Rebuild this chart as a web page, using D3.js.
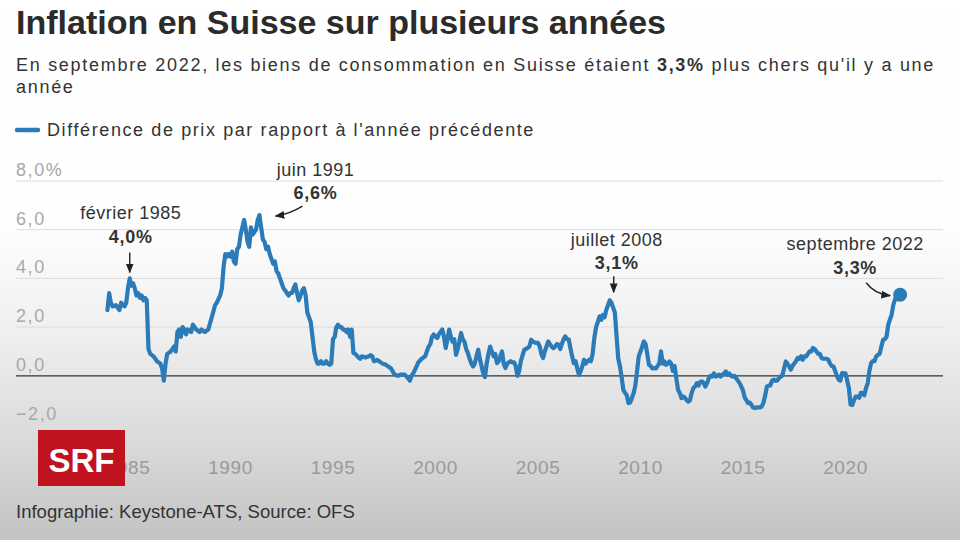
<!DOCTYPE html>
<html>
<head>
<meta charset="utf-8">
<script src="https://cdn.jsdelivr.net/npm/d3@7"></script>
<style>
  html, body { margin: 0; padding: 0; background: #fff; }
  svg { display: block; font-family: "Liberation Sans", Arial, sans-serif; }
</style>
</head>
<body>
<svg id="chart" width="960" height="540"></svg>
<script>
// ---------- DATA ----------
const title = "Inflation en Suisse sur plusieurs années";
const subtitleA = "En septembre 2022, les biens de consommation en Suisse étaient ";
const subtitleBold = "3,3%";
const subtitleB = " plus chers qu'il y a une";
const subtitleLine2 = "année";
const legendLabel = "Différence de prix par rapport à l'année précédente";
const footer = "Infographie: Keystone-ATS, Source: OFS";

const months = [
"1984-01","1984-02","1984-03","1984-04","1984-06","1984-08","1984-09","1984-10","1984-11","1984-12",
"1985-01","1985-02","1985-03","1985-04","1985-05","1985-06","1985-07","1985-08","1985-09","1985-10","1985-11","1985-12",
"1986-01","1986-02","1986-04","1986-06","1986-08","1986-09","1986-10","1986-11","1986-12",
"1987-02","1987-04","1987-05","1987-06","1987-07","1987-08","1987-09","1987-10","1987-11","1987-12",
"1988-02","1988-03","1988-05","1988-07","1988-08","1988-10","1988-12",
"1989-02","1989-04","1989-05","1989-07","1989-08","1989-09","1989-10","1989-11","1989-12",
"1990-01","1990-02","1990-03","1990-04","1990-05","1990-06","1990-07","1990-08","1990-09","1990-10","1990-11","1990-12",
"1991-01","1991-02","1991-03","1991-04","1991-05","1991-06","1991-07","1991-08","1991-09","1991-10","1991-11","1991-12",
"1992-01","1992-02","1992-03","1992-04","1992-05","1992-06","1992-07","1992-08","1992-09","1992-10","1992-11","1992-12",
"1993-01","1993-02","1993-03","1993-04","1993-05","1993-06","1993-07","1993-08","1993-09","1993-10","1993-11","1993-12",
"1994-01","1994-02","1994-03","1994-04","1994-05","1994-06","1994-07","1994-08","1994-09","1994-10","1994-11","1994-12",
"1995-01","1995-02","1995-03","1995-04","1995-05","1995-06","1995-07","1995-08","1995-09","1995-10","1995-11","1995-12",
"1996-01","1996-02","1996-04","1996-05","1996-06","1996-08","1996-10","1996-11","1996-12",
"1997-01","1997-03","1997-05","1997-06","1997-08","1997-10","1997-11",
"1998-01","1998-03","1998-05","1998-07","1998-09","1998-10","1998-11","1998-12",
"1999-02","1999-03","1999-05","1999-07","1999-09","1999-10","1999-11","1999-12",
"2000-01","2000-02","2000-03","2000-05","2000-06","2000-07","2000-08","2000-09","2000-10","2000-11","2000-12",
"2001-01","2001-02","2001-03","2001-04","2001-05","2001-06","2001-07","2001-08","2001-09","2001-10","2001-11","2001-12",
"2002-01","2002-02","2002-03","2002-04","2002-05","2002-06","2002-07","2002-08","2002-09","2002-10","2002-11","2002-12",
"2003-01","2003-02","2003-03","2003-04","2003-05","2003-06","2003-07","2003-09","2003-10","2003-11","2003-12",
"2004-01","2004-02","2004-03","2004-05","2004-06","2004-08","2004-09","2004-10","2004-12",
"2005-01","2005-02","2005-03","2005-04","2005-05","2005-06","2005-07","2005-08","2005-09","2005-10","2005-11","2005-12",
"2006-01","2006-02","2006-03","2006-04","2006-05","2006-06","2006-07","2006-08","2006-09","2006-10","2006-11","2006-12",
"2007-01","2007-02","2007-03","2007-04","2007-05","2007-06","2007-07","2007-08","2007-09","2007-10","2007-11","2007-12",
"2008-01","2008-02","2008-03","2008-04","2008-05","2008-06","2008-07","2008-08","2008-09","2008-10","2008-11","2008-12",
"2009-01","2009-02","2009-03","2009-04","2009-05","2009-06","2009-07","2009-08","2009-09","2009-10","2009-11","2009-12",
"2010-01","2010-02","2010-03","2010-04","2010-05","2010-06","2010-07","2010-08","2010-09","2010-10","2010-11","2010-12",
"2011-01","2011-02","2011-03","2011-04","2011-05","2011-06","2011-07","2011-08","2011-09","2011-10","2011-11","2011-12",
"2012-01","2012-02","2012-03","2012-04","2012-05","2012-06","2012-07","2012-08","2012-09","2012-10","2012-11","2012-12",
"2013-01","2013-02","2013-03","2013-04","2013-05","2013-06","2013-07","2013-08","2013-09","2013-10","2013-11","2013-12",
"2014-01","2014-02","2014-03","2014-04","2014-05","2014-06","2014-07","2014-08","2014-09","2014-10","2014-11","2014-12",
"2015-01","2015-02","2015-03","2015-04","2015-05","2015-06","2015-07","2015-08","2015-09","2015-10","2015-11","2015-12",
"2016-01","2016-02","2016-03","2016-04","2016-05","2016-06","2016-07","2016-08","2016-09","2016-10","2016-11","2016-12",
"2017-01","2017-02","2017-03","2017-04","2017-05","2017-06","2017-07","2017-08","2017-09","2017-10","2017-11","2017-12",
"2018-01","2018-02","2018-03","2018-04","2018-05","2018-06","2018-07","2018-08","2018-09","2018-10","2018-11","2018-12",
"2019-01","2019-02","2019-03","2019-04","2019-05","2019-06","2019-07","2019-08","2019-09","2019-10","2019-11","2019-12",
"2020-01","2020-02","2020-03","2020-04","2020-05","2020-06","2020-07","2020-08","2020-09","2020-10","2020-11","2020-12",
"2021-01","2021-02","2021-03","2021-04","2021-05","2021-06","2021-07","2021-08","2021-09","2021-10","2021-11","2021-12",
"2022-01","2022-02","2022-03","2022-04","2022-05","2022-06","2022-07","2022-08","2022-09"
];

const inflation = [
2.7,3.4,3.0,2.85,2.9,2.7,3.0,2.9,2.85,3.0,
3.6,4.0,3.7,3.8,3.6,3.3,3.4,3.2,3.3,3.1,3.2,3.1,
1.1,0.9,0.8,0.6,0.5,0.3,-0.2,0.5,0.9,
1.0,1.2,1.0,1.8,1.9,1.6,2.0,1.9,1.7,1.9,
1.8,2.1,1.9,1.8,1.9,1.8,1.9,
2.4,2.9,3.0,3.3,3.6,4.5,5.0,4.9,5.0,
4.9,5.1,4.7,4.6,5.2,5.3,5.8,6.1,6.4,6.0,5.5,5.3,
6.1,5.8,5.9,6.0,6.4,6.6,6.1,5.6,5.5,5.2,5.3,5.0,
4.8,4.6,4.7,4.3,4.2,4.0,3.8,3.6,3.5,3.4,3.3,3.4,
3.4,3.6,3.75,3.4,3.1,3.3,3.5,3.6,3.3,2.6,2.4,2.2,
1.6,1.0,0.7,0.5,0.5,0.6,0.5,0.5,0.6,0.5,0.45,0.5,
1.5,1.6,2.0,2.1,2.0,2.0,1.9,1.9,1.8,1.9,1.6,1.9,
0.93,0.9,0.75,0.7,0.8,0.75,0.8,0.85,0.8,
0.6,0.65,0.55,0.5,0.45,0.35,0.3,
0.05,0.0,0.05,0.05,-0.1,-0.2,0.0,0.1,
0.4,0.55,0.7,0.8,1.2,1.3,1.6,1.7,
1.6,1.55,1.7,1.9,1.6,1.14,1.5,1.9,1.6,1.4,1.5,
0.86,1.1,1.4,1.76,1.5,1.4,1.1,0.93,0.7,0.5,0.38,0.5,
0.8,1.07,0.7,0.4,0.1,-0.05,0.5,0.9,1.2,1.0,0.8,0.9,
0.52,0.6,0.8,1.0,0.5,0.32,0.5,0.6,0.55,0.55,0.4,
0.0,0.2,0.6,1.07,1.1,1.2,1.48,1.4,1.35,
1.35,1.2,0.9,0.73,1.0,1.2,1.41,1.3,1.2,1.14,1.2,1.3,
1.28,1.1,1.3,1.5,1.62,1.5,1.5,1.14,0.8,0.52,0.6,0.3,
0.04,0.2,0.4,0.66,0.5,0.6,0.66,0.6,0.9,1.55,2.0,2.2,
2.44,2.3,2.5,2.4,2.7,2.9,3.1,3.0,2.8,2.6,1.6,0.7,
0.38,-0.1,-0.58,-0.7,-0.8,-1.12,-1.1,-0.9,-0.71,-0.4,0.2,0.8,
1.0,1.2,1.41,1.3,0.9,0.45,0.4,0.3,0.32,0.3,0.4,0.5,
1.0,0.5,0.6,0.45,0.5,0.59,0.5,0.2,0.4,-0.1,-0.58,-0.7,
-0.92,-0.85,-0.9,-1.0,-1.06,-1.0,-0.7,-0.5,-0.44,-0.3,-0.4,-0.25,
-0.23,-0.3,-0.44,-0.3,-0.1,0.0,-0.03,0.1,-0.03,0.0,0.05,-0.03,
0.05,0.1,0.18,0.05,0.1,0.0,-0.03,0.0,-0.1,-0.2,-0.3,-0.44,
-0.6,-0.9,-1.0,-1.12,-1.1,-1.2,-1.3,-1.33,-1.3,-1.3,-1.3,-1.26,
-1.1,-0.8,-0.44,-0.4,-0.4,-0.2,-0.16,-0.2,-0.2,-0.1,-0.03,0.0,
0.3,0.59,0.5,0.4,0.25,0.4,0.5,0.6,0.73,0.7,0.8,0.66,
0.8,0.8,0.9,1.0,1.0,1.14,1.1,1.0,0.9,0.9,0.73,0.7,
0.7,0.7,0.66,0.5,0.4,0.38,0.2,0.0,-0.16,-0.2,0.11,0.1,
0.1,-0.2,-0.5,-1.19,-1.2,-1.0,-0.85,-0.85,-0.9,-0.7,-0.71,-0.8,
-0.5,-0.3,0.2,0.52,0.6,0.6,0.8,0.86,0.9,1.2,1.48,1.5,
1.6,2.1,2.3,2.5,2.9,3.13,3.3,3.4,3.33
];

const yTicks = [-2, 0, 2, 4, 6, 8];
const yTickLabels = ["\u22122,0", "0,0", "2,0", "4,0", "6,0", "8,0%"];
const xTicks = [1985, 1990, 1995, 2000, 2005, 2010, 2015, 2020];

const annoMonths = ["1985-02", "1991-06", "2008-07", "2022-09"];
const annoNames = ["février 1985", "juin 1991", "juillet 2008", "septembre 2022"];
const annoValues = ["4,0%", "6,6%", "3,1%", "3,3%"];

// ---------- LAYOUT ----------
const W = 960, H = 540;
const blue = "#2b7bb9";
const parse = d3.timeParse("%Y-%m");
const data = months.map((m, i) => ({ key: m, date: parse(m), value: inflation[i] }));

const svg = d3.select("#chart");
const defs = svg.append("defs");
const grad = defs.append("linearGradient").attr("id", "bg").attr("x1", 0).attr("y1", 0).attr("x2", 0).attr("y2", 1);
grad.append("stop").attr("offset", "0%").attr("stop-color", "#ffffff");
grad.append("stop").attr("offset", "42%").attr("stop-color", "#fefefe");
grad.append("stop").attr("offset", "62%").attr("stop-color", "#efefef");
grad.append("stop").attr("offset", "80%").attr("stop-color", "#dcdcdc");
grad.append("stop").attr("offset", "100%").attr("stop-color", "#c3c3c3");
svg.append("rect").attr("width", W).attr("height", H).attr("fill", "url(#bg)");

defs.append("marker").attr("id", "arr").attr("viewBox", "0 0 10 10")
  .attr("refX", 9).attr("refY", 5).attr("markerWidth", 7).attr("markerHeight", 7)
  .attr("orient", "auto-start-reverse")
  .append("path").attr("d", "M0,1 L10,5 L0,9 Z").attr("fill", "#222");

const x = d3.scaleTime()
  .domain([new Date(1985, 0, 1), new Date(2020, 0, 1)])
  .range([128, 845.5]);
const y = d3.scaleLinear().domain([-2, 8]).range([424.5, 181]);
const gridX0 = 16, gridX1 = 943;

function fit(sel, target) {
  const w = sel.node().getComputedTextLength();
  const fs = parseFloat(sel.attr("font-size"));
  sel.attr("font-size", (fs * target / w).toFixed(2));
}
function spread(sel, target) {
  const w = sel.node().getComputedTextLength();
  const n = sel.text().length;
  sel.attr("letter-spacing", ((target - w) / n).toFixed(3));
}

// Title
const t = svg.append("text").attr("x", 16).attr("y", 34).attr("font-size", 30)
  .attr("font-weight", "bold").attr("fill", "#2b2b2b").text(title);
fit(t, 650);

// Subtitle
const st = svg.append("text").attr("x", 16).attr("y", 71).attr("font-size", 18).attr("fill", "#333");
st.append("tspan").text(subtitleA);
st.append("tspan").attr("font-weight", "bold").text(subtitleBold);
st.append("tspan").text(subtitleB);
spread(st, 919);
svg.append("text").attr("x", 16).attr("y", 93).attr("font-size", 18)
  .attr("letter-spacing", st.attr("letter-spacing"))
  .attr("fill", "#333").text(subtitleLine2);

// Legend
svg.append("line").attr("x1", 17).attr("x2", 38).attr("y1", 130).attr("y2", 130)
  .attr("stroke", blue).attr("stroke-width", 4.5).attr("stroke-linecap", "round");
const lg = svg.append("text").attr("x", 47).attr("y", 136).attr("font-size", 18)
  .attr("fill", "#333").text(legendLabel);
spread(lg, 488);

// Grid
const grid = svg.append("g");
grid.selectAll("line").data(yTicks.filter(d => d !== 0)).join("line")
  .attr("x1", gridX0).attr("x2", gridX1)
  .attr("y1", d => y(d)).attr("y2", d => y(d))
  .attr("stroke", "#dcdcdc").attr("stroke-width", 1);
grid.selectAll("text").data(yTicks).join("text")
  .attr("x", 16).attr("y", d => y(d) - 5)
  .attr("font-size", 18).attr("letter-spacing", 1.6)
  .attr("fill", "#a8a8a8")
  .text((d, i) => yTickLabels[i]);

// zero line
svg.append("line").attr("x1", gridX0).attr("x2", gridX1)
  .attr("y1", y(0)).attr("y2", y(0)).attr("stroke", "#333").attr("stroke-width", 1.2);

// x axis labels
svg.append("g").selectAll("text").data(xTicks).join("text")
  .attr("x", d => x(new Date(d, 0, 1))).attr("y", 474)
  .attr("text-anchor", "middle").attr("font-size", 19).attr("letter-spacing", 0.6)
  .attr("fill", "#9a9a9a").text(d => d);

// Line
const line = d3.line().x(d => x(d.date)).y(d => y(d.value)).curve(d3.curveLinear);
svg.append("path").datum(data).attr("d", line)
  .attr("fill", "none").attr("stroke", blue).attr("stroke-width", 4.2)
  .attr("stroke-linejoin", "round").attr("stroke-linecap", "round");

// end dot
const last = data[data.length - 1];
svg.append("circle").attr("cx", x(last.date)).attr("cy", y(last.value)).attr("r", 7).attr("fill", blue);

// Annotations (offsets relative to the data point)
const annoStyle = [
  { dx: 1,   nameDy: -59, valDy: -35, arrow: (px, py) => `M${px},${py - 26} L${px},${py - 6}` },
  { dx: 56,  nameDy: -39, valDy: -16, arrow: (px, py) => `M${px + 43},${py - 9} Q${px + 30},${py - 1} ${px + 16},${py + 1}` },
  { dx: 7,   nameDy: -54, valDy: -31, arrow: (px, py) => `M${px + 4},${py - 24} L${px + 4},${py - 8}` },
  { dx: -45, nameDy: -45, valDy: -21, arrow: (px, py) => `M${px - 34},${py - 12} Q${px - 26},${py - 1} ${px - 10},${py + 1}` }
];
const ag = svg.append("g");
annoMonths.forEach((m, i) => {
  const d = data.find(p => p.key === m);
  const px = x(d.date), py = y(d.value);
  const s = annoStyle[i];
  ag.append("text").attr("x", px + s.dx).attr("y", py + s.nameDy).attr("text-anchor", "middle")
    .attr("font-size", 18).attr("letter-spacing", 0.5).attr("fill", "#333").text(annoNames[i]);
  ag.append("text").attr("x", px + s.dx).attr("y", py + s.valDy).attr("text-anchor", "middle")
    .attr("font-size", 18).attr("font-weight", "bold").attr("letter-spacing", 0.7).attr("fill", "#333").text(annoValues[i]);
  ag.append("path").attr("d", s.arrow(px, py)).attr("fill", "none")
    .attr("stroke", "#222").attr("stroke-width", 1.4).attr("marker-end", "url(#arr)");
});

// SRF logo
svg.append("rect").attr("x", 38).attr("y", 430).attr("width", 87).attr("height", 56).attr("fill", "#c1121f");
const logo = svg.append("text").attr("x", 81.5).attr("y", 472).attr("text-anchor", "middle")
  .attr("font-family", "'Liberation Sans Narrow', 'Arial Narrow', 'Liberation Sans', sans-serif")
  .attr("font-size", 36).attr("font-weight", "bold").attr("fill", "#fff").text("SRF");
fit(logo, 66);

// Footer
const ft = svg.append("text").attr("x", 16).attr("y", 518).attr("font-size", 15).attr("fill", "#333").text(footer);
fit(ft, 339);
</script>
</body>
</html>
